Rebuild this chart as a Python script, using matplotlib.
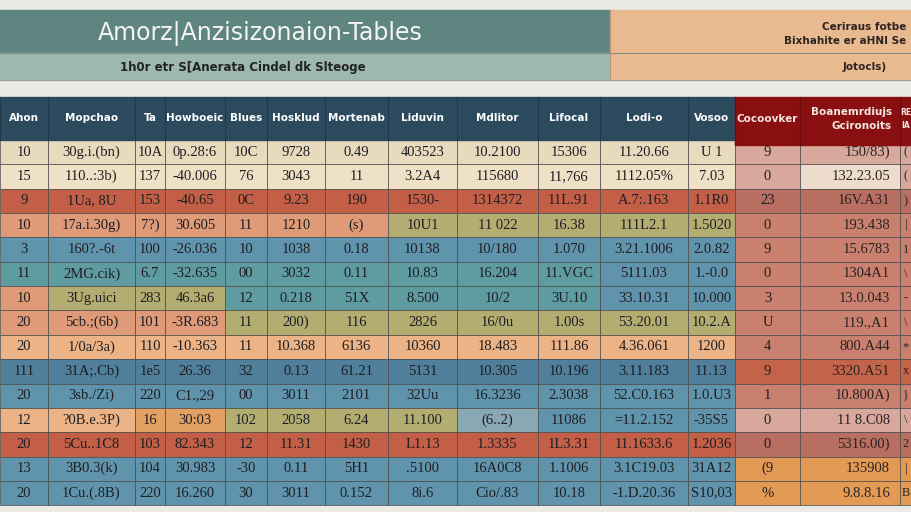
import matplotlib.pyplot as plt
from matplotlib.patches import Rectangle

# ################### DATA ####################
title = "Amorz|Anzisizonaion-Tables"
subtitle = "1h0r etr S[Anerata Cindel dk Slteoge"
side_lines = ["Ceriraus fotbe", "Bixhahite er aHNI Se"]
side_note = "Jotocls)"

headers = ["Ahon", "Mopchao", "Ta", "Howboeic", "Blues", "Hosklud",
           "Mortenab", "Liduvin", "Mdlitor", "Lifocal", "Lodi-o", "Vosoo",
           "Cocoovker", "Boanemrdiujs\nGcironoits", "RE\nIA"]

col_ahon = ["10", "15", "9", "10", "3", "11", "10", "20", "20", "111",
            "20", "12", "20", "13", "20"]
col_mopchao = ["30g.i.(bn)", "110..:3b)", "1Ua, 8U", "17a.i.30g)", "160?.-6t",
               "2MG.cik)", "3Ug.uici", "5cb.;(6b)", "1/0a/3a)", "31A;.Cb)",
               "3sb./Zi)", "?0B.e.3P)", "5Cu..1C8", "3B0.3(k)", "1Cu.(.8B)"]
col_ta = ["10A", "137", "153", "7?)", "100", "6.7", "283", "101", "110",
          "1e5", "220", "16", "103", "104", "220"]
col_howboeic = ["0p.28:6", "-40.006", "-40.65", "30.605", "-26.036",
                "-32.635", "46.3a6", "-3R.683", "-10.363", "26.36",
                "C1.,29", "30:03", "82.343", "30.983", "16.260"]
col_blues = ["10C", "76", "0C", "11", "10", "00", "12", "11", "11", "32",
             "00", "102", "12", "-30", "30"]
col_hosklud = ["9728", "3043", "9.23", "1210", "1038", "3032", "0.218",
               "200)", "10.368", "0.13", "3011", "2058", "11.31", "0.11",
               "3011"]
col_mortenab = ["0.49", "11", "190", "(s)", "0.18", "0.11", "51X", "116",
                "6136", "61.21", "2101", "6.24", "1430", "5H1", "0.152"]
col_liduvin = ["403523", "3.2A4", "1530-", "10U1", "10138", "10.83",
               "8.500", "2826", "10360", "5131", "32Uu", "11.100", "L1.13",
               ".5100", "8i.6"]
col_mdlitor = ["10.2100", "115680", "1314372", "11 022", "10/180", "16.204",
               "10/2", "16/0u", "18.483", "10.305", "16.3236", "(6..2)",
               "1.3335", "16A0C8", "Cio/.83"]
col_lifocal = ["15306", "11,766", "11L.91", "16.38", "1.070", "11.VGC",
               "3U.10", "1.00s", "111.86", "10.196", "2.3038", "11086",
               "1L3.31", "1.1006", "10.18"]
col_lodio = ["11.20.66", "1112.05%", "A.7:.163", "111L2.1", "3.21.1006",
             "5111.03", "33.10.31", "53.20.01", "4.36.061", "3.11.183",
             "52.C0.163", "=11.2.152", "11.1633.6", "3.1C19.03", "-1.D.20.36"]
col_vosoo = ["U 1", "7.03", "1.1R0", "1.5020", "2.0.82", "1.-0.0", "10.000",
             "10.2.A", "1200", "11.13", "1.0.U3", "-35S5", "1.2036", "31A12",
             "S10,03"]
col_cocoovker = ["9", "0", "23", "0", "9", "0", "3", "U", "4", "9", "1", "0",
                 "0", "(9", "%"]
col_boanem = ["150/83)", "132.23.05", "16V.A31", "193.438", "15.6783",
              "1304A1", "13.0.043", "119.,A1", "800.A44", "3320.A51",
              "10.800A)", "11 8.C08", "5316.00)", "135908", "9.8.8.16"]
col_re = ["(", "(", ")", "|", "1", "\\", "-", "\\", "*", "x", "}", "\\", "2",
          "|", "B"]

columns = [col_ahon, col_mopchao, col_ta, col_howboeic, col_blues,
           col_hosklud, col_mortenab, col_liduvin, col_mdlitor, col_lifocal,
           col_lodio, col_vosoo, col_cocoovker, col_boanem, col_re]

# ################### STYLE ####################
edges = [0, 48, 135, 165, 225, 267, 325, 388, 457, 538, 600, 688, 735,
         800, 900, 912]
row_top = 140
row_h = 24.35
palette = {
    "C": "#e8dabd", "L": "#eee1c6", "R": "#c45f47", "S": "#df9a78",
    "O": "#b4ad72", "B": "#6094ad", "T": "#5f9ca1", "D": "#4f7f9b",
    "P": "#ecb486", "A": "#e2a162", "V": "#88a9b4",
    "K": "#d9a89c", "W": "#eddccb", "M": "#b86e60", "N": "#c9806e",
    "E": "#c3644a", "F": "#e39a55",
}
row_fill = ["CCCCCCCCCCCCKKK", "LLLLLLLLLLLLKWK", "RRRRRRRRRRRRMMM",
            "SSSSSSSOOOOONNN", "BBBBBBBBBBBBNNN", "TTTTTTTTTTBBNNN",
            "SOOOTTTTTTBBNNN", "SSSSOOOOOOOONNN", "PPPPPPPPPPPPNNN",
            "DDDDDDDDDDDDEEE", "BBBBBBBBBBBBNNN", "PPAAOOOOVBBBKKK",
            "RRRRRRRRRRRRMMM", "BBBBBBBBBBBBFFF", "BBBBBBBBBBBBFFF"]


# ################### FUNCTIONS ####################
def drawBands(ax):
    ax.add_patch(Rectangle((0, 10), 610, 43, color="#5f8580"))
    ax.add_patch(Rectangle((0, 53), 610, 27, color="#9db9ad"))
    ax.add_patch(Rectangle((610, 10), 302, 70, color="#e9b98f"))
    ax.plot([0, 912], [53, 53], color="#7f8f86", lw=0.8)
    ax.plot([610, 610], [10, 80], color="#b8967a", lw=0.8)
    ax.plot([0, 912], [80, 80], color="#9aa49a", lw=0.8)
    ax.text(260, 33, title, color="#f4f4f0", fontsize=17, ha="center",
            va="center", family="DejaVu Sans")
    ax.text(243, 67, subtitle, color="#222222", fontsize=8.5, ha="center",
            va="center", weight="bold", family="DejaVu Sans")
    ax.text(906, 27, side_lines[0], color="#2b2420", fontsize=7.5,
            ha="right", va="center", weight="bold")
    ax.text(906, 41, side_lines[1], color="#2b2420", fontsize=7.5,
            ha="right", va="center", weight="bold")
    ax.text(865, 67, side_note, color="#2b2420", fontsize=7.5, ha="center",
            va="center", weight="bold")


def drawTable(ax):
    nrows = len(col_ahon)
    for r in range(nrows):
        y = row_top + r * row_h
        for c in range(len(columns)):
            x0, x1 = edges[c], edges[c + 1]
            ax.add_patch(Rectangle((x0, y), x1 - x0, row_h,
                                   facecolor=palette[row_fill[r][c]],
                                   edgecolor="#4a4a4a", lw=0.5))
            txt = columns[c][r]
            if c == 13:
                ax.text(x1 - 10, y + row_h / 2, txt, ha="right", va="center",
                        fontsize=10.5, color="#2a2222",
                        family="Liberation Serif")
            elif c == 14:
                ax.text((x0 + x1) / 2, y + row_h / 2, txt, ha="center",
                        va="center", fontsize=9, color="#2a2222",
                        family="Liberation Serif")
            else:
                ax.text((x0 + x1) / 2, y + row_h / 2, txt, ha="center",
                        va="center", fontsize=10.5, color="#1e1e22",
                        family="Liberation Serif")

    # header
    ax.add_patch(Rectangle((0, 97), 735, row_top - 97, color="#2c4a5e"))
    ax.add_patch(Rectangle((735, 97), 177, 48, color="#890f10"))
    for c in range(len(headers)):
        x0, x1 = edges[c], edges[c + 1]
        if c < 12:
            ax.plot([x0, x0], [97, row_top], color="#22394a", lw=0.8)
            ax.text((x0 + x1) / 2, 118, headers[c], color="white",
                    fontsize=7.5, ha="center", va="center", weight="bold")
        elif c == 12:
            ax.plot([x0, x0], [97, 145], color="#6e0a0a", lw=0.8)
            ax.text((x0 + x1) / 2, 119, headers[c], color="#f3e6e0",
                    fontsize=7.5, ha="center", va="center", weight="bold")
        elif c == 13:
            ax.plot([x0, x0], [97, 145], color="#6e0a0a", lw=0.8)
            ax.text(x1 - 8, 119, headers[c], color="#f3e6e0",
                    fontsize=7.5, ha="right", va="center", weight="bold",
                    linespacing=1.5)
        else:
            ax.plot([x0, x0], [97, 145], color="#6e0a0a", lw=0.8)
            ax.text((x0 + x1) / 2, 119, headers[c], color="#f3e6e0",
                    fontsize=5.5, ha="center", va="center", weight="bold",
                    linespacing=1.5)


# Main Function
def main():
    fig = plt.figure(figsize=(9.12, 5.12), dpi=100)
    fig.patch.set_facecolor("#ebeae5")
    ax = fig.add_axes([0, 0, 1, 1])
    ax.set_xlim(0, 912)
    ax.set_ylim(512, 0)
    ax.axis("off")

    drawBands(ax)
    drawTable(ax)

    fig.savefig("out.png", dpi=100, facecolor=fig.get_facecolor())


main()
